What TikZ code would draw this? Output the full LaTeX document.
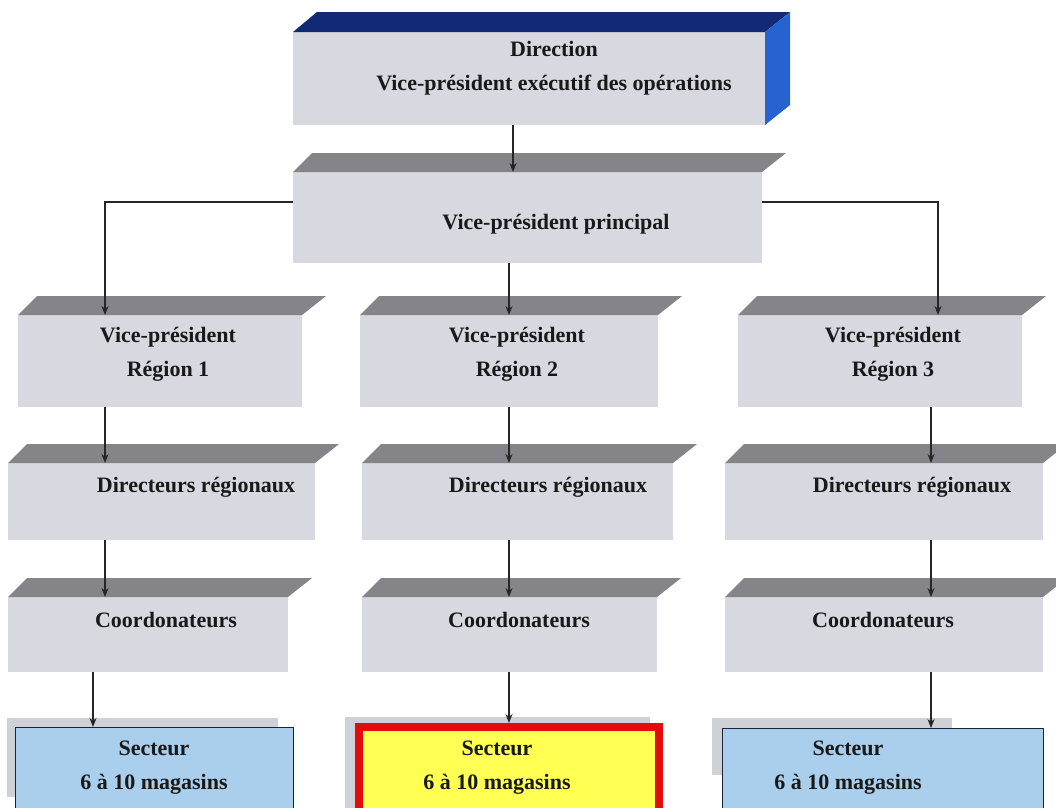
\documentclass[tikz,border=0pt]{standalone}
\usepackage{fontspec}
\setmainfont{Liberation Serif}
\usetikzlibrary{calc, arrows.meta, positioning}
\definecolor{facegray}{RGB}{216,216,225}
\definecolor{topgray}{RGB}{132,132,137}
\definecolor{topnavy}{RGB}{18,42,118}
\definecolor{sideblue}{RGB}{38,98,208}
\definecolor{sectorblue}{RGB}{170,207,236}
\definecolor{sectorline}{RGB}{28,34,60}
\definecolor{sectoryellow}{RGB}{255,255,84}
\definecolor{alertred}{RGB}{226,12,12}
\definecolor{shadowgray}{RGB}{208,208,215}

\begin{document}
\begin{tikzpicture}[x=1pt, y=-1pt, font=\bfseries\fontsize{22}{34}\selectfont]
      % Styles
      \tikzset{front_face/.style={rectangle, fill=facegray, inner sep=0pt, outer sep=0pt, anchor=north west}}
      \tikzset{top_face/.style={fill=topgray}}
      \tikzset{box_text/.style={align=center, inner sep=0pt, text=black!90}}
      \tikzset{sector_box/.style={rectangle, draw=sectorline, line width=1.2pt, fill=sectorblue, inner sep=0pt, anchor=north west}}
      \tikzset{sector_alert/.style={sector_box, draw=alertred, line width=8pt, fill=sectoryellow}}
      \tikzset{sector_shadow/.style={fill=shadowgray}}
      \tikzset{link/.style={-{Stealth[length=9pt, width=7pt]}, line width=1.4pt, black!85}}

      \useasboundingbox (0,0) rectangle (1056,807);
      \clip (0,0) rectangle (1056,807);
      \fill[white] (0,0) rectangle (1056,807);

      % --- Direction block on top (blue faces) ---
      \node[front_face, minimum width=472pt, minimum height=93pt] (dir) at (293,32) {};
      \fill[topnavy] (dir.north west) -- ++(24,-20) -- ($(dir.north east)+(25,-20)$) -- (dir.north east) -- cycle;
      \fill[sideblue] (dir.north east) -- ++(25,-20) -- ++(0,93) -- (dir.south east) -- cycle;
      \node[box_text] (t_dir) at (554,68) {Direction\\Vice-président exécutif des opérations};

      % --- Vice-president principal ---
      \node[front_face, minimum width=469pt, minimum height=91pt] (vpp) at (293,172) {};
      \node[box_text] (t_vpp) at (556,224) {Vice-président principal};

      % --- Regions ---
      \node[front_face, minimum width=284pt, minimum height=92pt] (reg1) at (18,315) {};
      \node[front_face, minimum width=298pt, minimum height=92pt] (reg2) at (360,315) {};
      \node[front_face, minimum width=284pt, minimum height=92pt] (reg3) at (738,315) {};
      \node[box_text] (t_reg1) at (168,354) {Vice-président\\Région 1};
      \node[box_text] (t_reg2) at (517,354) {Vice-président\\Région 2};
      \node[box_text] (t_reg3) at (893,354) {Vice-président\\Région 3};

      % --- Regional directors ---
      \node[front_face, minimum width=307pt, minimum height=77pt] (dr1) at (8,463) {};
      \node[front_face, minimum width=311pt, minimum height=77pt] (dr2) at (362,463) {};
      \node[front_face, minimum width=318pt, minimum height=77pt] (dr3) at (725,463) {};
      \node[box_text] (t_dr1) at (196,487) {Directeurs régionaux};
      \node[box_text] (t_dr2) at (548,487) {Directeurs régionaux};
      \node[box_text] (t_dr3) at (912,487) {Directeurs régionaux};

      % --- Coordinators ---
      \node[front_face, minimum width=280pt, minimum height=75pt] (co1) at (8,597) {};
      \node[front_face, minimum width=295pt, minimum height=75pt] (co2) at (362,597) {};
      \node[front_face, minimum width=318pt, minimum height=75pt] (co3) at (725,597) {};
      \node[box_text] (t_co1) at (166,620) {Coordonateurs};
      \node[box_text] (t_co2) at (519,620) {Coordonateurs};
      \node[box_text] (t_co3) at (883,620) {Coordonateurs};

      % grey top faces
      \foreach \n in {vpp, reg1, reg2, reg3, dr1, dr2, dr3, co1, co2, co3}
        \fill[top_face] (\n.north west) -- ++(19,-19) -- ($(\n.north east)+(24,-19)$) -- (\n.north east) -- cycle;

      % --- Sectors at the bottom ---
      \fill[sector_shadow] (7,718) rectangle (278,797);
      \fill[sector_shadow] (345,717) rectangle (650,815);
      \fill[sector_shadow] (712,718) rectangle (952,775);
      \node[sector_box, minimum width=278pt, minimum height=100pt] (sec1) at (15,727) {};
      \node[sector_alert, minimum width=300pt, minimum height=100pt] (sec2) at (355,723) {};
      \node[sector_box, minimum width=321pt, minimum height=100pt] (sec3) at (722,728) {};
      \node[box_text] (t_sec1) at (154,768) {Secteur\\6 à 10 magasins};
      \node[box_text] (t_sec2) at (497,768) {Secteur\\6 à 10 magasins};
      \node[box_text] (t_sec3) at (848,768) {Secteur\\6 à 10 magasins};

      % --- Connectors ---
      \coordinate (spine) at (513,0);
      \coordinate (col1) at (105,0);
      \coordinate (col1b) at (93,0);
      \coordinate (col2) at (509,0);
      \coordinate (col3) at (931,0);
      \coordinate (col3a) at (938,0);

      \draw[link] (dir.south -| spine) -- (vpp.north -| spine);
      \draw[link] (vpp.south -| col2) -- (reg2.north -| col2);
      \draw[link] ([yshift=15.5pt]vpp.west) -| (reg1.north -| col1);
      \draw[link] ([yshift=15.5pt]vpp.east) -| (reg3.north -| col3a);

      \foreach \a/\b/\c in {reg1/dr1/col1, dr1/co1/col1, co1/sec1/col1b,
                            reg2/dr2/col2, dr2/co2/col2, co2/sec2/col2,
                            reg3/dr3/col3, dr3/co3/col3, co3/sec3/col3}
        \draw[link] (\a.south -| \c) -- (\b.north -| \c);

    \end{tikzpicture}
\end{document}
